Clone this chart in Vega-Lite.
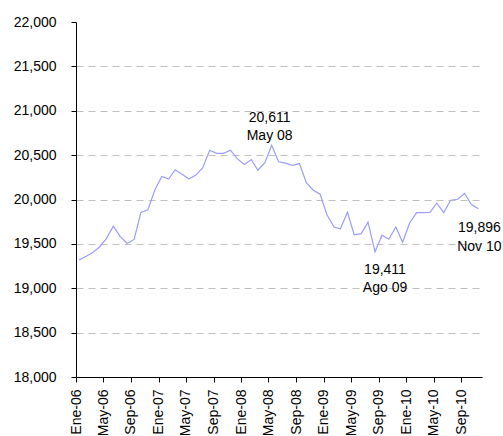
{
  "$schema": "https://vega.github.io/schema/vega-lite/v6.json",
  "autosize": {"type": "none"},
  "padding": {"left": 76, "top": 22, "right": 21, "bottom": 58},
  "width": 406,
  "height": 355,
  "background": "white",
  "config": {
    "view": {"stroke": null},
    "font": "Liberation Sans",
    "axis": {"labelFont": "Liberation Sans", "labelColor": "#000", "domainColor": "#000", "tickColor": "#000"}
  },
  "datasets": {
    "series": [
      {"date": "2006-01-15", "value": 19320},
      {"date": "2006-02-15", "value": 19360},
      {"date": "2006-03-15", "value": 19400},
      {"date": "2006-04-15", "value": 19465},
      {"date": "2006-05-15", "value": 19560},
      {"date": "2006-06-15", "value": 19700},
      {"date": "2006-07-15", "value": 19585},
      {"date": "2006-08-15", "value": 19505},
      {"date": "2006-09-15", "value": 19550},
      {"date": "2006-10-15", "value": 19855},
      {"date": "2006-11-15", "value": 19885},
      {"date": "2006-12-15", "value": 20105},
      {"date": "2007-01-15", "value": 20260},
      {"date": "2007-02-15", "value": 20230},
      {"date": "2007-03-15", "value": 20335},
      {"date": "2007-04-15", "value": 20285},
      {"date": "2007-05-15", "value": 20230},
      {"date": "2007-06-15", "value": 20275},
      {"date": "2007-07-15", "value": 20355},
      {"date": "2007-08-15", "value": 20555},
      {"date": "2007-09-15", "value": 20520},
      {"date": "2007-10-15", "value": 20520},
      {"date": "2007-11-15", "value": 20555},
      {"date": "2007-12-15", "value": 20460},
      {"date": "2008-01-15", "value": 20395},
      {"date": "2008-02-15", "value": 20450},
      {"date": "2008-03-15", "value": 20330},
      {"date": "2008-04-15", "value": 20415},
      {"date": "2008-05-15", "value": 20611},
      {"date": "2008-06-15", "value": 20425},
      {"date": "2008-07-15", "value": 20410},
      {"date": "2008-08-15", "value": 20385},
      {"date": "2008-09-15", "value": 20405},
      {"date": "2008-10-15", "value": 20190},
      {"date": "2008-11-15", "value": 20105},
      {"date": "2008-12-15", "value": 20060},
      {"date": "2009-01-15", "value": 19825},
      {"date": "2009-02-15", "value": 19690},
      {"date": "2009-03-15", "value": 19670},
      {"date": "2009-04-15", "value": 19855},
      {"date": "2009-05-15", "value": 19603},
      {"date": "2009-06-15", "value": 19615},
      {"date": "2009-07-15", "value": 19745},
      {"date": "2009-08-15", "value": 19411},
      {"date": "2009-09-15", "value": 19598},
      {"date": "2009-10-15", "value": 19552},
      {"date": "2009-11-15", "value": 19690},
      {"date": "2009-12-15", "value": 19518},
      {"date": "2010-01-15", "value": 19736},
      {"date": "2010-02-15", "value": 19853},
      {"date": "2010-03-15", "value": 19853},
      {"date": "2010-04-15", "value": 19855},
      {"date": "2010-05-15", "value": 19958},
      {"date": "2010-06-15", "value": 19853},
      {"date": "2010-07-15", "value": 19992},
      {"date": "2010-08-15", "value": 20003},
      {"date": "2010-09-15", "value": 20068},
      {"date": "2010-10-15", "value": 19944},
      {"date": "2010-11-15", "value": 19896}
    ],
    "notes": [
      {"date": "2008-05-15", "value": 20611, "note": "20,611\nMay 08", "pos": "above"},
      {"date": "2009-08-15", "value": 19411, "note": "19,411\nAgo 09", "pos": "below"},
      {"date": "2010-11-15", "value": 19896, "note": "19,896\nNov 10", "pos": "right"}
    ]
  },
  "layer": [
    {
      "data": {"name": "series"},
      "mark": {"type": "line", "color": "#9c9cff", "strokeWidth": 1.2},
      "encoding": {
        "x": {
          "field": "date", "type": "temporal",
          "scale": {"type": "utc", "domain": [{"year": 2006, "month": 1, "date": 1, "utc": true}, {"year": 2010, "month": 12, "date": 1, "utc": true}]},
          "axis": {
            "title": null,
            "tickCount": 100,
            "values": [
              {"year": 2006, "month": 1, "date": 1, "utc": true},
              {"year": 2006, "month": 5, "date": 1, "utc": true},
              {"year": 2006, "month": 9, "date": 1, "utc": true},
              {"year": 2007, "month": 1, "date": 1, "utc": true},
              {"year": 2007, "month": 5, "date": 1, "utc": true},
              {"year": 2007, "month": 9, "date": 1, "utc": true},
              {"year": 2008, "month": 1, "date": 1, "utc": true},
              {"year": 2008, "month": 5, "date": 1, "utc": true},
              {"year": 2008, "month": 9, "date": 1, "utc": true},
              {"year": 2009, "month": 1, "date": 1, "utc": true},
              {"year": 2009, "month": 5, "date": 1, "utc": true},
              {"year": 2009, "month": 9, "date": 1, "utc": true},
              {"year": 2010, "month": 1, "date": 1, "utc": true},
              {"year": 2010, "month": 5, "date": 1, "utc": true},
              {"year": 2010, "month": 9, "date": 1, "utc": true}
            ],
            "labelExpr": "['Ene','Feb','Mar','Abr','May','Jun','Jul','Ago','Sep','Oct','Nov','Dic'][utcmonth(datum.value)] + '-' + utcFormat(datum.value, '%y')",
            "labelAngle": -90,
            "labelAlign": "right",
            "labelBaseline": "middle",
            "labelFontSize": 14,
            "labelPadding": 7,
            "tickSize": 5,
            "grid": false,
            "labelOverlap": false,
            "labelFlush": false
          }
        },
        "y": {
          "field": "value", "type": "quantitative",
          "scale": {"domain": [18000, 22000], "nice": false, "zero": false},
          "axis": {
            "title": null,
            "values": [18000, 18500, 19000, 19500, 20000, 20500, 21000, 21500, 22000],
            "format": ",d",
            "labelFontSize": 14,
            "labelPadding": 15,
            "tickSize": 5,
            "grid": true,
            "gridColor": "#c0c0c0",
            "gridDash": [7, 5],
            "gridOpacity": {"condition": {"test": "datum.value == 22000 || datum.value == 18000", "value": 0}, "value": 1}
          }
        }
      }
    },
    {
      "data": {"name": "notes"},
      "transform": [{"filter": "datum.pos == 'above'"}],
      "mark": {"type": "text", "lineBreak": "\n", "fontSize": 14, "font": "Liberation Sans", "color": "#000", "align": "center", "baseline": "alphabetic", "lineHeight": 18, "dy": -23, "dx": -2},
      "encoding": {
        "x": {"field": "date", "type": "temporal"},
        "y": {"field": "value", "type": "quantitative"},
        "text": {"field": "note"}
      }
    },
    {
      "data": {"name": "notes"},
      "transform": [{"filter": "datum.pos == 'below'"}],
      "mark": {"type": "text", "lineBreak": "\n", "fontSize": 14, "font": "Liberation Sans", "color": "#000", "align": "center", "baseline": "alphabetic", "lineHeight": 18, "dy": 22, "dx": 10},
      "encoding": {
        "x": {"field": "date", "type": "temporal"},
        "y": {"field": "value", "type": "quantitative"},
        "text": {"field": "note"}
      }
    },
    {
      "data": {"name": "notes"},
      "transform": [{"filter": "datum.pos == 'right'"}],
      "mark": {"type": "text", "lineBreak": "\n", "fontSize": 14, "font": "Liberation Sans", "color": "#000", "align": "center", "baseline": "alphabetic", "lineHeight": 19, "dy": 23, "dx": 1},
      "encoding": {
        "x": {"field": "date", "type": "temporal"},
        "y": {"field": "value", "type": "quantitative"},
        "text": {"field": "note"}
      }
    }
  ]
}
